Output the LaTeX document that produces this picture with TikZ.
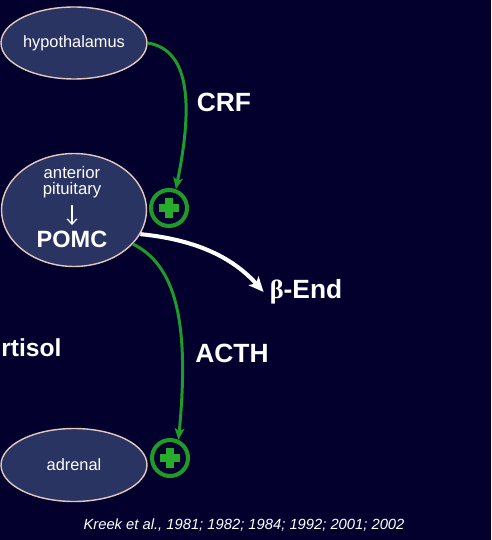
\documentclass[tikz,border=0pt]{standalone}
\usepackage{fontspec}
\setmainfont{Liberation Sans}
\newfontfamily\betafont{Liberation Serif}
\usetikzlibrary{shapes.geometric,arrows.meta}
\definecolor{bgnavy}{RGB}{3,0,46}
\definecolor{glandfill}{RGB}{42,52,98}
\definecolor{glandrim}{RGB}{228,200,190}
\definecolor{axisgreen}{RGB}{30,156,40}
\definecolor{crossgreen}{RGB}{40,172,44}

\begin{document}
\begin{tikzpicture}[x=0.02cm,y=-0.02cm,
  gland/.style={ellipse,draw=glandrim,line width=0.8pt,fill=glandfill,text=white,
    inner sep=0pt,font=\fontsize{9.3}{11}\selectfont},
  plus/.style={circle,draw=axisgreen,line width=2.3pt,fill=bgnavy,minimum size=0.72cm,inner sep=0pt},
  crossbar/.style={crossgreen,line width=4pt},
  drive/.style={axisgreen,line width=1.7pt,-{Stealth[length=6.5pt,width=5.5pt,inset=1.5pt]}},
  label/.style={text=white,font=\fontsize{15}{18}\selectfont\bfseries}]
  \fill[bgnavy] (0,0) rectangle (491,540);
  \useasboundingbox (0,0) rectangle (491,540);

  %glands
  \node[gland,minimum width=2.92cm,minimum height=1.44cm] (hypo) at (74,43) {hypothalamus};
  \node[gland,minimum width=2.9cm,minimum height=2.26cm] (pit) at (74,210) {};
  \node[gland,minimum width=2.92cm,minimum height=1.46cm] (adrenal) at (74,465) {adrenal};

  %inside the pituitary
  \node[text=white,inner sep=0pt,font=\fontsize{9.5}{11}\selectfont] (ant) at (72,173) {anterior};
  \node[text=white,inner sep=0pt,font=\fontsize{9.5}{11}\selectfont] (pitname) at (72,190) {pituitary};
  \node[text=white,inner sep=0pt,font=\fontsize{13.4}{16}\selectfont\bfseries] (pomc) at (72,239) {POMC};
  \draw[white,line width=0.7pt,shorten <=4pt,shorten >=3pt,-{Straight Barb[length=3pt,width=5.5pt]}] (pitname.south) -- (pomc.north);

  %stimulation marks
  \node[plus] (plusA) at (169,208) {};
  \node[plus] (plusB) at (170,458) {};
  \draw[crossbar] (plusA.center) ++(-10,0) -- ++(20,0) (plusA.center) ++(0,-10) -- ++(0,20);
  \draw[crossbar] (plusB.center) ++(-10,0) -- ++(20,0) (plusB.center) ++(0,-10) -- ++(0,20);

  %labels
  \node[label] (crf) at (224,102) {CRF};
  \node[label] (acth) at (232,353) {ACTH};
  \node[label] (bend) at (306,292) {{\betafont β}-End};
  \node[label,anchor=west,inner sep=0pt,font=\fontsize{14}{17}\selectfont\bfseries] (cort) at (1,348) {rtisol};
  \node[text=white,font=\fontsize{8.4}{10}\selectfont\itshape] (cite) at (244,525) {Kreek et al., 1981; 1982; 1984; 1992; 2001; 2002};

  %hormone arrows
  \draw[drive] (hypo.east) .. controls (192,50) and (192,110) .. (plusA.70);
  \draw[drive] (pit.-30) .. controls (175,265) and (190,320) .. (plusB.65);
  \draw[white,line width=2.3pt,-{Stealth[length=8.5pt,width=7.5pt,inset=2pt]}] (pit.-20) .. controls (200,240) and (235,260) .. (bend.west);
\end{tikzpicture}
\end{document}
